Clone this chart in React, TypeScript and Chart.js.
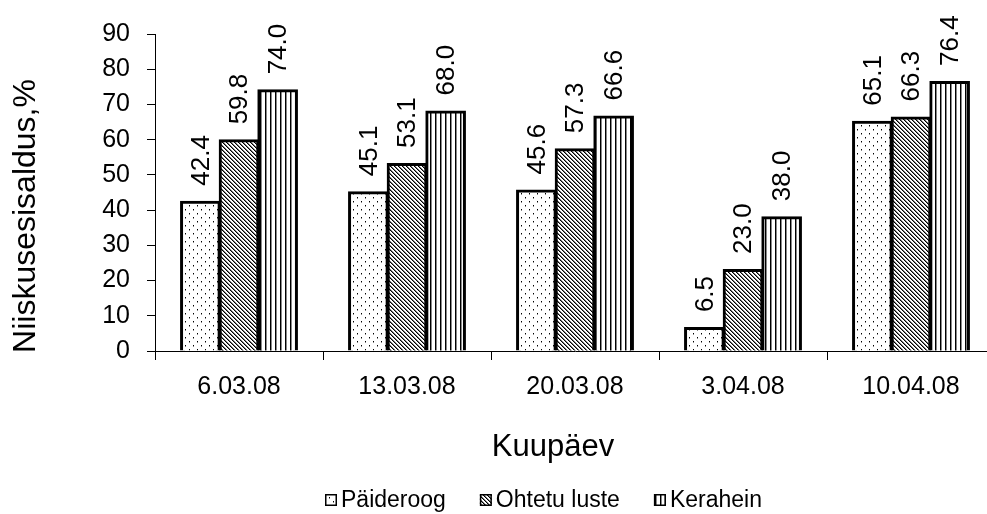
import React, { useEffect, useRef } from 'react';
import { Chart, registerables } from 'chart.js';

Chart.register(...registerables);

const categories = ['6.03.08', '13.03.08', '20.03.08', '3.04.08', '10.04.08'];
const paideroog = [42.4, 45.1, 45.6, 6.5, 65.1];
const ohtetuLuste = [59.8, 53.1, 57.3, 23.0, 66.3];
const kerahein = [74.0, 68.0, 66.6, 38.0, 76.4];
const seriesNames = ['Päideroog', 'Ohtetu luste', 'Kerahein'];
const yTicks = [0, 10, 20, 30, 40, 50, 60, 70, 80, 90];
const xTitle = 'Kuupäev';
const yTitle = 'Niiskusesisaldus,%';

const FONT = "'Liberation Sans', Arial, sans-serif";

function makePattern(kind: string): CanvasPattern {
  const c = document.createElement('canvas');
  let w = 8, h = 8;
  if (kind === 'diag') { w = 4; h = 4; }
  if (kind === 'vert') { w = 5; h = 5; }
  c.width = w; c.height = h;
  const x = c.getContext('2d')!;
  x.fillStyle = '#fff';
  x.fillRect(0, 0, w, h);
  if (kind === 'dots') {
    x.fillStyle = '#000';
    x.fillRect(1, 1, 1, 1);
    x.fillRect(5, 5, 1, 1);
    x.fillStyle = '#888';
    x.fillRect(1, 2, 1, 1);
    x.fillRect(5, 6, 1, 1);
  } else if (kind === 'diag') {
    for (let i = 0; i < 4; i++) {
      x.fillStyle = '#000';
      x.fillRect(i, i, 1, 1);
      x.fillStyle = '#777';
      x.fillRect((i + 1) % 4, i, 1, 1);
    }
  } else {
    x.fillStyle = '#000';
    x.fillRect(0, 0, 1, h);
    x.fillStyle = '#888';
    x.fillRect(1, 0, 1, h);
  }
  return x.createPattern(c, 'repeat')!;
}

export default function App() {
  const ref = useRef<HTMLCanvasElement | null>(null);

  useEffect(() => {
    const canvas = ref.current!;
    const patterns = [makePattern('dots'), makePattern('diag'), makePattern('vert')];
    const seriesData = [paideroog, ohtetuLuste, kerahein];

    const extras = {
      id: 'extras',
      afterDraw(chart: any) {
        const ctx = chart.ctx as CanvasRenderingContext2D;
        ctx.save();
        ctx.fillStyle = '#000';
        // value labels
        ctx.font = `26px ${FONT}`;
        chart.data.datasets.forEach((ds: any, di: number) => {
          const meta = chart.getDatasetMeta(di);
          meta.data.forEach((bar: any, i: number) => {
            const v = ds.data[i] as number;
            ctx.save();
            ctx.translate(bar.x, bar.y - 16);
            ctx.rotate(-Math.PI / 2);
            ctx.textAlign = 'left';
            ctx.textBaseline = 'middle';
            ctx.fillText(v.toFixed(1), 0, 1);
            ctx.restore();
          });
        });
        // y title
        ctx.save();
        ctx.font = `32px ${FONT}`;
        ctx.translate(26, 216);
        ctx.rotate(-Math.PI / 2);
        ctx.textAlign = 'center';
        ctx.textBaseline = 'middle';
        ctx.fillText(yTitle, 0, 0);
        ctx.restore();
        // x title
        ctx.font = `31px ${FONT}`;
        ctx.textAlign = 'center';
        ctx.textBaseline = 'alphabetic';
        ctx.fillText(xTitle, 553, 456);
        // legend
        ctx.font = `23px ${FONT}`;
        const box = 12, gapBox = 4, gapItem = 34;
        const widths = seriesNames.map((n) => ctx.measureText(n).width);
        const total = widths.reduce((a, b) => a + b, 0) + seriesNames.length * (box + gapBox) + gapItem * (seriesNames.length - 1);
        let lx = Math.round(543 - total / 2);
        seriesNames.forEach((n, i) => {
          ctx.fillStyle = patterns[i];
          ctx.fillRect(lx, 494, box, box);
          ctx.strokeStyle = '#000';
          ctx.lineWidth = 1.5;
          ctx.strokeRect(lx + 0.75, 494.75, box - 1.5, box - 1.5);
          ctx.fillStyle = '#000';
          ctx.textAlign = 'left';
          ctx.textBaseline = 'alphabetic';
          ctx.fillText(n, lx + box + gapBox, 507);
          lx += box + gapBox + widths[i] + gapItem;
        });
        ctx.restore();
      },
    };

    const chart = new Chart(canvas, {
      type: 'bar',
      data: {
        labels: categories,
        datasets: seriesNames.map((name, i) => ({
          label: name,
          data: seriesData[i],
          backgroundColor: patterns[i],
          borderColor: '#000',
          borderWidth: 3,
          inflateAmount: 1,
          categoryPercentage: 0.69,
          barPercentage: 1,
        })),
      },
      options: {
        responsive: false,
        animation: false,
        devicePixelRatio: 1,
        layout: { padding: { top: 34, right: 5, left: 0, bottom: 0 } },
        plugins: {
          legend: { display: false },
          tooltip: { enabled: false },
          title: { display: false },
        },
        scales: {
          x: {
            type: 'category',
            grid: { display: true, drawOnChartArea: false, drawTicks: true, tickLength: 9, color: '#000', offset: true },
            border: { display: true, color: '#000', width: 1 },
            ticks: { color: '#000', font: { size: 25, family: FONT }, padding: 12, maxRotation: 0, autoSkip: false },
            afterFit: (s: any) => { s.height = 163; },
          },
          y: {
            min: 0,
            max: 90,
            afterBuildTicks: (s: any) => { s.ticks = yTicks.map((v) => ({ value: v })); },
            grid: { display: true, drawOnChartArea: false, drawTicks: true, tickLength: 8, color: '#000' },
            border: { display: true, color: '#000', width: 1 },
            ticks: { color: '#000', font: { size: 25, family: FONT }, padding: 17 },
            afterFit: (s: any) => { s.width = 155; },
          },
        },
      },
      plugins: [extras],
    });
    return () => chart.destroy();
  }, []);

  return (
    <div style={{ position: 'fixed', left: 0, top: 0, width: 987, height: 514, overflow: 'hidden', background: '#fff' }}>
      <canvas ref={ref} width={1000} height={514} style={{ display: 'block' }} />
    </div>
  );
}
